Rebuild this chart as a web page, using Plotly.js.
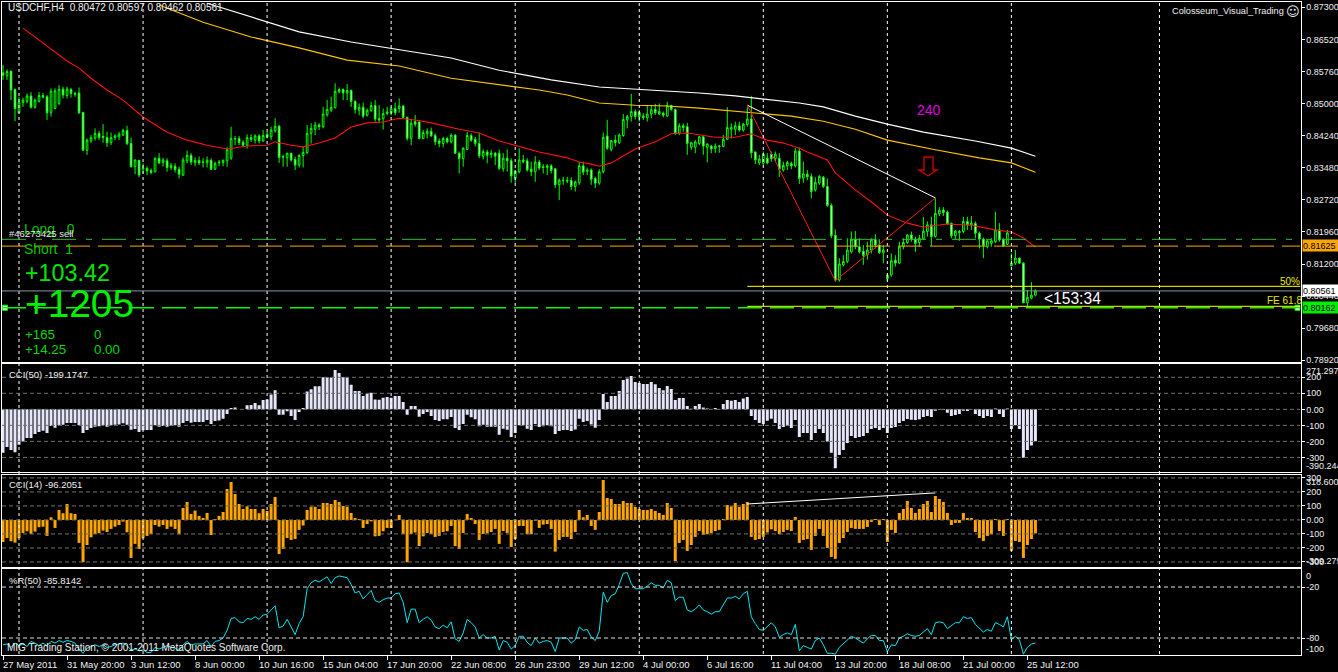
<!DOCTYPE html>
<html><head><meta charset="utf-8">
<script src="https://cdn.plot.ly/plotly-3.0.0.min.js"></script>
<style>html,body{margin:0;padding:0;background:#000;overflow:hidden}#c{width:1338px;height:672px}</style>
</head><body><div id="c"></div>
<script>
// Prices are in 1/10000 units.
const openP=[8574,8567,8578,8534,8479,8503,8506,8519,8492,8506,
8520,8517,8479,8489,8501,8535,8520,8534,8525,8526,
8480,8390,8412,8419,8430,8423,8420,8408,8420,8422,
8426,8437,8406,8351,8366,8345,8347,8342,8339,8371,
8361,8365,8349,8352,8345,8331,8365,8378,8360,8366,
8361,8360,8366,8345,8360,8361,8365,8371,8418,8418,
8409,8402,8420,8414,8424,8412,8422,8422,8436,8447,
8375,8372,8383,8368,8355,8377,8384,8430,8440,8450,
8446,8474,8485,8491,8529,8534,8526,8532,8506,8485,
8492,8473,8484,8496,8465,8465,8477,8479,8489,8489,
8495,8468,8418,8458,8457,8418,8429,8435,8425,8412,
8406,8418,8410,8426,8383,8370,8392,8425,8416,8406,
8376,8386,8380,8383,8383,8346,8371,8365,8323,8339,
8367,8365,8345,8339,8362,8351,8349,8353,8346,8308,
8318,8319,8318,8304,8313,8353,8340,8343,8323,8312,
8339,8424,8392,8414,8408,8425,8462,8470,8482,8480,
8471,8467,8476,8487,8476,8478,8471,8496,8487,8430,
8448,8446,8397,8397,8406,8422,8397,8400,8394,8399,
8399,8416,8440,8440,8448,8438,8451,8464,8386,8360,
8359,8371,8381,8370,8371,8343,8353,8359,8353,8388,
8324,8333,8328,8296,8312,8326,8304,8259,8188,8082,
8118,8126,8149,8179,8161,8150,8142,8153,8178,8165,
8147,8093,8094,8129,8122,8161,8171,8189,8179,8171,
8179,8197,8213,8185,8239,8248,8243,8217,8187,8197,
8197,8221,8213,8216,8193,8179,8161,8169,8173,8201,
8179,8167,8116,8122,8134,8122,8028,8039,8046];
const closeP=[8568,8577,8533,8489,8504,8509,8519,8492,8509,8520,
8516,8479,8530,8531,8535,8521,8535,8525,8523,8479,
8390,8414,8420,8430,8420,8420,8408,8420,8424,8428,
8437,8406,8351,8367,8331,8347,8341,8337,8371,8360,
8367,8349,8354,8344,8333,8367,8378,8362,8366,8360,
8362,8366,8345,8359,8362,8366,8392,8418,8417,8408,
8402,8420,8416,8424,8412,8425,8428,8438,8447,8373,
8374,8383,8367,8355,8378,8385,8430,8442,8450,8446,
8476,8487,8492,8530,8534,8526,8532,8506,8487,8492,
8471,8485,8496,8464,8462,8477,8481,8489,8479,8495,
8468,8418,8454,8452,8418,8432,8435,8424,8410,8406,
8418,8410,8426,8383,8370,8395,8425,8414,8406,8377,
8387,8378,8383,8376,8347,8371,8365,8329,8341,8367,
8363,8343,8339,8362,8348,8349,8353,8342,8308,8319,
8319,8317,8304,8315,8353,8338,8343,8321,8312,8339,
8421,8395,8413,8408,8426,8463,8470,8482,8470,8470,
8468,8476,8486,8479,8482,8473,8496,8487,8430,8448,
8444,8406,8408,8410,8422,8400,8405,8393,8400,8400,
8416,8444,8444,8448,8438,8452,8464,8384,8367,8369,
8381,8360,8370,8381,8345,8354,8361,8353,8388,8323,
8334,8327,8292,8314,8328,8304,8259,8187,8082,8120,
8126,8153,8179,8161,8149,8140,8153,8178,8165,8147,
8153,8085,8128,8122,8161,8171,8189,8179,8169,8181,
8198,8213,8185,8240,8248,8242,8215,8187,8198,8195,
8221,8213,8217,8193,8179,8164,8175,8175,8201,8177,
8163,8194,8122,8134,8122,8028,8041,8046,8056];
const highP=[8592,8582,8578,8537,8517,8515,8525,8528,8513,8528,
8526,8521,8537,8537,8545,8541,8541,8538,8529,8539,
8481,8418,8426,8442,8436,8452,8434,8432,8428,8434,
8441,8448,8420,8368,8367,8359,8352,8347,8373,8383,
8372,8371,8360,8359,8351,8373,8389,8383,8373,8375,
8371,8375,8371,8363,8367,8368,8397,8446,8424,8424,
8414,8428,8428,8428,8428,8438,8434,8446,8466,8450,
8379,8384,8384,8375,8380,8398,8450,8454,8458,8454,
8493,8509,8517,8549,8539,8537,8547,8534,8509,8501,
8503,8489,8505,8509,8497,8489,8493,8493,8503,8513,
8497,8470,8463,8474,8462,8438,8442,8444,8430,8418,
8422,8422,8430,8428,8387,8397,8434,8430,8422,8432,
8392,8391,8391,8386,8392,8383,8392,8371,8343,8395,
8379,8371,8363,8376,8367,8357,8357,8357,8347,8323,
8327,8327,8326,8318,8363,8363,8349,8347,8327,8345,
8432,8462,8414,8426,8430,8476,8474,8524,8487,8486,
8478,8497,8497,8500,8501,8482,8505,8498,8489,8454,
8454,8455,8410,8414,8424,8426,8406,8402,8406,8402,
8426,8492,8454,8458,8458,8455,8493,8519,8387,8379,
8387,8383,8387,8387,8383,8363,8365,8363,8395,8397,
8363,8343,8335,8326,8331,8329,8323,8264,8202,8134,
8141,8181,8197,8198,8181,8165,8173,8181,8191,8179,
8165,8098,8145,8141,8173,8181,8191,8197,8185,8189,
8232,8221,8232,8276,8255,8255,8247,8218,8201,8201,
8232,8232,8234,8221,8197,8183,8177,8181,8244,8217,
8181,8201,8145,8153,8135,8124,8058,8077,8060];
const lowP=[8557,8557,8509,8459,8477,8493,8501,8489,8489,8503,
8513,8462,8470,8487,8497,8513,8513,8515,8517,8476,
8389,8379,8408,8413,8414,8408,8398,8402,8414,8414,
8424,8402,8349,8333,8326,8335,8331,8333,8337,8357,
8351,8339,8343,8337,8323,8329,8359,8355,8352,8355,
8349,8349,8343,8343,8352,8352,8351,8367,8402,8402,
8397,8394,8410,8406,8406,8410,8418,8414,8432,8360,
8351,8351,8363,8343,8349,8349,8381,8406,8426,8438,
8442,8470,8481,8489,8525,8509,8509,8493,8477,8473,
8466,8470,8481,8458,8454,8439,8473,8473,8473,8479,
8466,8413,8402,8446,8416,8416,8418,8422,8402,8397,
8397,8406,8406,8381,8335,8351,8391,8410,8399,8371,
8368,8359,8371,8355,8343,8339,8339,8313,8312,8335,
8359,8339,8329,8315,8343,8335,8331,8335,8300,8272,
8308,8312,8296,8292,8308,8331,8331,8308,8300,8308,
8335,8391,8387,8399,8405,8422,8442,8458,8463,8458,
8462,8458,8466,8474,8474,8468,8470,8484,8426,8426,
8434,8379,8391,8383,8402,8379,8361,8383,8384,8384,
8397,8414,8418,8426,8434,8434,8446,8371,8357,8355,
8355,8357,8363,8363,8327,8339,8343,8345,8349,8310,
8313,8319,8276,8292,8308,8300,8256,8181,8078,8078,
8114,8122,8145,8155,8145,8118,8130,8145,8157,8144,
8122,8078,8090,8114,8120,8155,8168,8173,8149,8161,
8177,8185,8163,8183,8234,8234,8213,8181,8177,8175,
8193,8201,8201,8181,8157,8134,8157,8161,8169,8173,
8161,8165,8114,8118,8120,8027,8020,8036,8043];

const redMaBars=[5,16,19,22,26,30,35,41,46,51,56,61,66,68,72,75,79,83,87,91,95,99,103,107,114,119,124,128,134,141,144,147,149,152,158,163,167,171,178,183,187,191,195,199,201,206,208,213,218,221,226,230,236,242,248,252,255,258];
const redMaVals=[8680,8602,8585,8561,8533,8509,8469,8433,8414,8402,8393,8400,8402,8410,8402,8398,8407,8419,8445,8455,8457,8466,8462,8455,8440,8431,8412,8402,8386,8372,8362,8357,8352,8360,8393,8410,8429,8431,8421,8421,8429,8414,8407,8395,8386,8367,8336,8296,8260,8236,8217,8208,8215,8212,8201,8196,8182,8160];
const yellowMaBars=[39,50,62,74,86,99,112,134,141,149,158,166,174,183,190,197,205,213,221,233,244,252,258];
const yellowMaVals=[8735,8694,8659,8633,8604,8590,8561,8533,8521,8502,8497,8495,8490,8483,8478,8471,8459,8440,8414,8391,8372,8360,8338];
const whiteMaBars=[51,62,74,87,99,112,124,137,149,162,174,183,190,199,205,213,221,230,243,252,258];
const whiteMaVals=[8739,8706,8671,8647,8628,8609,8580,8557,8540,8533,8526,8519,8512,8502,8493,8471,8452,8433,8412,8395,8376];
const zigzagBars=[186,208,233];
const zigzagVals=[8497,8080,8277];
const whiteTrendBars=[186,233];
const whiteTrendVals=[8497,8277];

const cci50=[-271,-235,-254,-267,-221,-200,-179,-179,-154,-142,
-133,-148,-104,-115,-100,-96,-85,-85,-85,-100,
-148,-129,-117,-108,-106,-100,-108,-100,-96,-94,
-87,-96,-127,-123,-142,-131,-129,-129,-100,-108,
-104,-108,-104,-100,-108,-85,-73,-83,-79,-79,
-79,-67,-92,-73,-69,-58,-29,8,12,0,
1,25,27,40,25,58,62,92,119,-33,
-33,-12,-42,-67,-17,8,112,125,144,144,
200,200,198,246,227,200,198,154,115,115,
83,98,104,62,60,73,77,73,83,83,
46,-33,21,21,-46,-29,-17,-42,-67,-73,
-62,-62,-48,-117,-129,-92,-33,-50,-62,-106,
-96,-108,-108,-108,-158,-121,-127,-173,-148,-100,
-100,-121,-129,-92,-110,-106,-100,-106,-154,-135,
-129,-129,-135,-125,-58,-79,-73,-94,-115,-67,
96,46,83,83,115,183,192,208,171,165,
158,158,171,156,133,119,146,127,58,71,
71,21,4,21,33,12,6,0,8,2,
33,58,54,58,46,67,77,-42,-67,-85,
-92,-71,-58,-85,-123,-110,-104,-117,-67,-173,
-148,-148,-192,-148,-123,-148,-200,-271,-367,-285,
-254,-210,-167,-179,-173,-167,-148,-123,-117,-129,
-117,-148,-117,-110,-85,-73,-60,-65,-67,-62,
-48,-42,-48,-8,-2,-4,-21,-42,-35,-29,
-8,-10,-1,-29,-42,-54,-42,-48,6,-29,
-48,6,-123,-100,-123,-302,-254,-225,-199];
const cci14=[-157,-129,-152,-162,-129,-93,-81,-100,-83,-52,
-48,-114,19,-57,71,48,114,48,43,-164,
-302,-179,-124,-100,-95,-76,-86,-64,-48,-36,
-12,-88,-271,-171,-207,-131,-114,-100,-36,-48,
-36,-64,-48,-64,-102,86,129,43,67,29,
14,50,-107,7,29,57,221,271,186,114,
79,98,79,79,48,79,64,114,164,-243,
-207,-129,-143,-136,-71,-40,71,95,95,79,
121,121,114,143,129,100,95,50,14,7,
-57,-29,-10,-117,-114,-81,-57,-57,0,36,
-100,-302,-100,-90,-186,-117,-93,-100,-121,-114,
-86,-81,-43,-186,-207,-93,43,14,-29,-143,
-100,-95,-86,-64,-171,-79,-93,-193,-136,-43,
-43,-102,-102,-5,-57,-33,-29,-64,-226,-143,
-121,-121,-136,-86,71,19,36,-43,-71,57,
286,157,150,114,114,136,121,121,93,79,
71,71,79,64,50,36,121,86,-293,-164,
-143,-221,-179,-121,-79,-107,-102,-93,-79,-71,
7,107,98,121,93,114,129,-121,-143,-136,
-121,-90,-67,-79,-102,-86,-71,-79,21,-164,
-143,-136,-214,-114,-64,-114,-200,-264,-278,-164,
-129,-86,-57,-64,-64,-64,-50,-14,7,-36,
7,-157,-71,-93,50,79,136,86,50,79,
114,136,57,171,150,129,50,-36,-21,-21,
50,14,14,-86,-129,-150,-114,-102,7,-79,
-114,7,-221,-150,-157,-271,-179,-136,-96];
const cci14TrendBars=[186,233];
const cci14TrendVals=[114,193];
const williamsR=[-88,-87,-91,-86,-89,-87,-90,-84,-86,-89,
-86,-89,-84,-86,-83,-85,-83,-84,-86,-93,
-98,-92,-90,-88,-90,-88,-91,-90,-88,-87,
-86,-89,-94,-93,-95,-94,-97,-97,-91,-93,
-91,-89,-91,-92,-95,-88,-84,-88,-87,-87,
-87,-83,-90,-84,-83,-80,-71,-57,-56,-61,
-62,-57,-58,-55,-58,-53,-52,-47,-42,-68,
-66,-58,-67,-76,-63,-55,-22,-15,-12,-14,
-11,-8,-16,-9,-7,-8,-9,-17,-27,-25,
-34,-29,-24,-36,-38,-35,-33,-33,-28,-27,
-38,-62,-46,-46,-62,-58,-55,-59,-67,-69,
-65,-68,-61,-81,-84,-74,-58,-62,-67,-80,
-76,-80,-80,-78,-94,-83,-85,-93,-89,-78,
-78,-85,-89,-80,-86,-84,-83,-85,-96,-80,
-80,-80,-86,-82,-67,-71,-70,-79,-83,-72,
-26,-38,-30,-28,-17,-4,-3,-16,-22,-22,
-22,-19,-15,-18,-18,-21,-12,-15,-36,-32,
-32,-47,-49,-46,-41,-47,-49,-52,-49,-49,
-41,-33,-33,-31,-34,-28,-25,-55,-63,-70,
-71,-67,-62,-67,-79,-76,-74,-76,-64,-95,
-89,-91,-93,-83,-80,-88,-98,-98,-99,-91,
-87,-82,-78,-80,-83,-86,-81,-77,-77,-83,
-83,-96,-88,-89,-80,-78,-75,-77,-78,-77,
-73,-69,-76,-62,-61,-62,-69,-65,-62,-62,
-55,-57,-56,-64,-69,-73,-70,-72,-62,-64,
-67,-55,-82,-78,-82,-99,-91,-87,-86];

const dateTickBars=[0,16,32,48,64,80,96,112,128,144,160,176,192,208,224,240,256];
const dateTickLabels=['27 May 2011','31 May 20:00','3 Jun 12:00','8 Jun 00:00','10 Jun 16:00','15 Jun 04:00','17 Jun 20:00','22 Jun 08:00','26 Jun 23:00','29 Jun 12:00','4 Jul 00:00','6 Jul 16:00','11 Jul 04:00','13 Jul 20:00','18 Jul 08:00','21 Jul 00:00','25 Jul 12:00'];
const vGridBars=[4,35,66,97,128,159,190,221,252,289];
const priceTicks=[0.873,0.8652,0.8576,0.85,0.8424,0.8348,0.8272,0.8196,0.812,0.8044,0.7968,0.7892];
const priceTickLabels=['0.87300','0.86520','0.85760','0.85000','0.84240','0.83480','0.82720','0.81960','0.81200','0.80440','0.79680','0.78920'];
const cci50Levels=[200,100,0,-100,-200,-300];
const cci14Levels=[300,200,100,0,-100,-200,-300];
const rLevels=[-20,-80];
const bidPrice=0.80561, entryPrice=0.81625, targetPrice=0.80162, longLinePrice=0.81786;
const fib50Price=0.8067, fibFePrice=0.80196, fibStartBar=186;

const W=1338,H=672;
const px=x=>x/W, py=y=>1-y/H;
const toPrice=a=>a.map(v=>v/10000);
const bars=openP.map((_,i)=>i);
const XR=[-0.25,324.25];
const FONT='"Liberation Sans",Arial,sans-serif';
const AXFONT=9;

const traces=[];
traces.push({type:'candlestick',x:bars,open:toPrice(openP),high:toPrice(highP),low:toPrice(lowP),close:toPrice(closeP),
  xaxis:'x',yaxis:'y',whiskerwidth:0,hoverinfo:'skip',showlegend:false,
  increasing:{line:{color:'#00ff00',width:1},fillcolor:'#000000'},
  decreasing:{line:{color:'#00ff00',width:1},fillcolor:'#ffffff'}});
const ln=(x,y,color,w,xa,ya)=>({type:'scatter',mode:'lines',x,y,xaxis:xa||'x',yaxis:ya||'y',
  line:{color,width:w||1,shape:'linear'},hoverinfo:'skip',showlegend:false});
traces.push(ln(redMaBars,toPrice(redMaVals),'#ff1010',1.1));
traces.push(ln(yellowMaBars,toPrice(yellowMaVals),'#ffc400',1.1));
traces.push(ln(whiteMaBars,toPrice(whiteMaVals),'#ffffff',1.1));
traces.push(ln(whiteTrendBars,toPrice(whiteTrendVals),'#ffffff',1));
traces.push(ln(zigzagBars,toPrice(zigzagVals),'#ff1a1a',1));
traces.push({type:'scatter',mode:'markers',x:[0.5,323.5],y:[targetPrice,targetPrice],xaxis:'x',yaxis:'y',hoverinfo:'skip',showlegend:false,
  marker:{symbol:'square',size:5,color:'#ffffff',line:{color:'#00ff00',width:1}}});
traces.push({type:'bar',x:bars,y:cci50,xaxis:'x2',yaxis:'y2',width:0.75,marker:{color:'#e6e6fa',line:{width:0}},hoverinfo:'skip',showlegend:false});
traces.push({type:'bar',x:bars,y:cci14,xaxis:'x3',yaxis:'y3',width:0.75,marker:{color:'#ffa500',line:{width:0}},hoverinfo:'skip',showlegend:false});
traces.push(ln(cci14TrendBars,cci14TrendVals,'#ffffff',1,'x3','y3'));
traces.push(ln(bars,williamsR,'#00e8f0',1,'x4','y4'));

const xAx=(anchor,extra)=>Object.assign({anchor,domain:[px(2),px(1300.5)],range:XR,showgrid:false,zeroline:false,showticklabels:false,
  showline:true,mirror:true,linecolor:'#ffffff',linewidth:1,ticks:'',fixedrange:true},extra||{});
const yAx=(anchor,top,bottom,range,tickvals,ticktext)=>({anchor,domain:[py(bottom),py(top)],range,side:'right',showgrid:false,zeroline:false,
  showline:true,mirror:true,linecolor:'#ffffff',linewidth:1,ticks:'outside',ticklen:3,tickcolor:'#ffffff',tickmode:'array',tickvals,ticktext,
  tickfont:{family:FONT,size:AXFONT,color:'#f0f0f0'},fixedrange:true});

const shapes=[];
vGridBars.forEach(b=>shapes.push({type:'line',xref:'x',yref:'paper',x0:b,x1:b,y0:py(654),y1:py(2),layer:'above',line:{color:'#ffffff',width:1,dash:'3px,3px'}}));
const hl=(v,xa,ya,color,dash,x0,w)=>shapes.push({type:'line',xref:xa,yref:ya,x0:x0===undefined?XR[0]:x0,x1:XR[1],y0:v,y1:v,layer:'above',line:{color,width:w||1,dash}});
cci50Levels.forEach(v=>hl(v,'x2','y2','#707070','4px,3px'));
cci14Levels.forEach(v=>hl(v,'x3','y3','#707070','4px,3px'));
rLevels.forEach(v=>hl(v,'x4','y4','#e0e0e0','4px,3px'));
hl(longLinePrice,'x','y','#3cb83c','24px,10px,6px,10px');
hl(entryPrice,'x','y','#ffa500','24px,8px');
hl(bidPrice,'x','y','#8a98a8','solid');
hl(fib50Price,'x','y','#ffff00','solid',fibStartBar);
hl(fibFePrice,'x','y','#ffff00','solid',fibStartBar);
hl(targetPrice,'x','y','#00ff00','24px,8px',undefined,1.5);
// hollow red arrow
const ap=[[924,157],[933,157],[933,170],[937,170],[928,176],[919,170],[924,170]];
shapes.push({type:'path',xref:'paper',yref:'paper',path:'M'+ap.map(p=>px(p[0]).toFixed(5)+','+py(p[1]).toFixed(5)).join(' L')+' Z',line:{color:'#c80000',width:1.4},fillcolor:'rgba(0,0,0,0)',layer:'above'});

const ann=[];
const T=(text,x,y,size,color,extra)=>ann.push(Object.assign({xref:'paper',yref:'paper',x:px(x),y:py(y),text,showarrow:false,xanchor:'left',yanchor:'middle',
  font:{family:FONT,size,color},borderpad:0},extra||{}));
T('USDCHF,H4  0.80472 0.80597 0.80462 0.80561',7,8,10,'#f0f0f0');
T('Colosseum_Visual_Trading',1171,11,9.2,'#f0f0f0');
T('☺',1285,11,13,'#f0f0f0',{font:{family:'"DejaVu Sans"',size:13,color:'#f0f0f0'}});
T('240',916,110,14,'#e000e0');
T('Long   0',23,229,14,'#00c000');
T('#46273425 sell',8,233,9.5,'#e8e8e8');
T('Short  1',23,249,14,'#00c800');
T('+103.42',24,273,23.3,'#00e800');
T('+1205',24,304,38.8,'#00f000');
T('+165',24,334,13.3,'#00d800');
T('0',93,334,13.3,'#00d800');
T('+14.25',24,349,13.3,'#00d800');
T('0.00',93,349,13.3,'#00d800');
T('&lt;153:34',1043,298,15.6,'#ffffff');
T('50%',1279,281,10,'#e8e800');
T('FE 61.8',1266,300,10,'#e8e800');
T('CCI(50) -199.1747',8,374,9.5,'#f0f0f0');
T('CCI(14) -96.2051',8,484,9.5,'#f0f0f0');
T('%R(50) -85.8142',8,580,9.5,'#f0f0f0');
T('MIG Trading Station, © 2001-2011 MetaQuotes Software Corp.',6,647,10,'#f0f0f0');
T('271.2974',1305,371,AXFONT,'#f0f0f0');
T('-390.244',1305,465.5,AXFONT,'#f0f0f0');
T('318.6007',1305,482,AXFONT,'#f0f0f0');
T('-309.279',1305,560.5,AXFONT,'#f0f0f0');
T('0',1305,576,AXFONT,'#f0f0f0');
T('-100',1305,648.5,AXFONT,'#f0f0f0');
const tag=(text,y,bg)=>T(text,1301.5,y,AXFONT,'#000000',{bgcolor:bg,width:36.5,height:11,align:'left'});
tag('0.81625',245.5,'#ffa500');
tag('0.80561',290.5,'#ffffff');
tag('0.80162',308,'#00ee00');
dateTickBars.forEach((b,i)=>ann.push({xref:'x4',yref:'paper',x:b,y:py(664),text:dateTickLabels[i],showarrow:false,xanchor:'left',yanchor:'middle',xshift:-1,
  font:{family:FONT,size:9.5,color:'#f0f0f0'},borderpad:0}));

const layout={width:W,height:H,margin:{l:0,r:0,t:0,b:0,pad:0},paper_bgcolor:'#000000',plot_bgcolor:'#000000',showlegend:false,
  bargap:0.25,boxgap:0.4,hovermode:false,dragmode:false,shapes,annotations:ann,
  xaxis:xAx('y',{rangeslider:{visible:false}}),
  yaxis:yAx('x',2,362,[0.78874,0.87419],priceTicks,priceTickLabels),
  xaxis2:xAx('y2'),
  yaxis2:yAx('x2',364,472,[-391,283],cci50Levels,['200','100','0.00','-100','-200','-300']),
  xaxis3:xAx('y3'),
  yaxis3:yAx('x3',475,567,[-336,321],[300,200,100,0,-100,-200,-300],['300','200','100','0.00','-100','-200','-300']),
  xaxis4:xAx('y4',{ticks:'outside',ticklen:4,tickcolor:'#ffffff',tickmode:'array',tickvals:dateTickBars,ticktext:dateTickLabels}),
  yaxis4:yAx('x4',569,655,[-100,1.2],rLevels,['-20','-80'])
};
Plotly.newPlot('c',traces,layout,{staticPlot:true,displayModeBar:false});
</script></body></html>
